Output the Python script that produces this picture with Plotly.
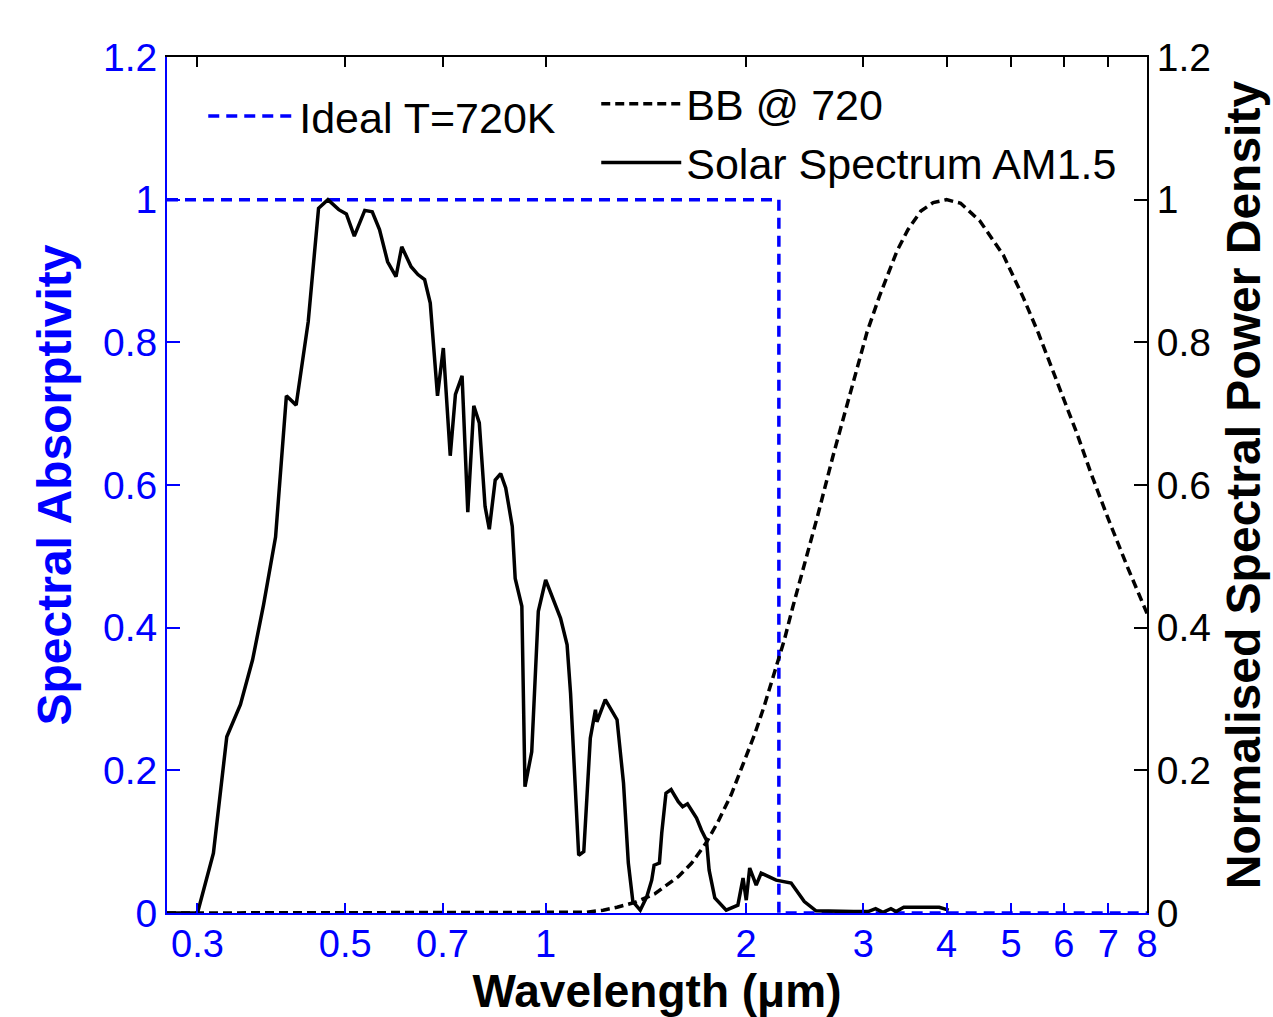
import math
import plotly.graph_objects as go

# ---- data ----
solar_wl = [0.27, 0.300, 0.317, 0.332, 0.348, 0.363, 0.377, 0.393, 0.408, 0.422,
            0.440, 0.456, 0.471, 0.489, 0.502, 0.516, 0.535, 0.549, 0.563, 0.579,
            0.596, 0.608, 0.628, 0.643, 0.658, 0.671, 0.688, 0.702, 0.719, 0.732,
            0.749, 0.764, 0.780, 0.795, 0.811, 0.823, 0.840, 0.856, 0.871, 0.891,
            0.900, 0.921, 0.931, 0.953, 0.975, 1.000, 1.053, 1.077, 1.090, 1.121,
            1.141, 1.167, 1.188, 1.194, 1.229, 1.280, 1.309, 1.331, 1.352, 1.387,
            1.419, 1.443, 1.455, 1.482, 1.494, 1.516, 1.543, 1.582, 1.606, 1.633,
            1.685, 1.714, 1.744, 1.760, 1.795, 1.867, 1.944, 1.979, 2.001, 2.025,
            2.071, 2.107, 2.219, 2.337, 2.446, 2.547, 2.90, 3.05, 3.13, 3.21,
            3.30, 3.36, 3.45, 3.90, 4.03]
solar_val = [0.0, 0.0, 0.084, 0.247, 0.292, 0.355, 0.432, 0.527, 0.725, 0.712,
             0.829, 0.988, 1.000, 0.986, 0.980, 0.949, 0.985, 0.983, 0.958, 0.913,
             0.892, 0.934, 0.906, 0.895, 0.888, 0.855, 0.725, 0.792, 0.641, 0.727,
             0.753, 0.562, 0.711, 0.687, 0.570, 0.538, 0.607, 0.616, 0.596, 0.542,
             0.469, 0.430, 0.177, 0.226, 0.423, 0.467, 0.413, 0.376, 0.308, 0.081,
             0.086, 0.245, 0.285, 0.268, 0.299, 0.271, 0.182, 0.070, 0.016, 0.004,
             0.023, 0.046, 0.067, 0.070, 0.112, 0.168, 0.173, 0.156, 0.149, 0.153,
             0.133, 0.116, 0.102, 0.060, 0.021, 0.004, 0.011, 0.049, 0.018, 0.063,
             0.039, 0.056, 0.046, 0.042, 0.016, 0.003, 0.002, 0.002, 0.006, 0.001,
             0.006, 0.002, 0.008, 0.008, 0.004]

bb_wl = [0.27, 0.5, 1.0, 1.15, 1.22, 1.28, 1.363, 1.459, 1.582, 1.657,
         1.744, 1.815, 1.900, 1.990, 2.059, 2.131, 2.218, 2.283, 2.349, 2.473,
         2.56, 2.70, 2.82, 2.94, 3.04, 3.17, 3.37, 3.50, 3.66, 3.82,
         4.0, 4.2, 4.49, 4.87, 5.22, 5.50, 5.72, 6.0, 6.28, 6.6,
         7.0, 7.5, 8.0]
bb_val = [0.0, 0.0, 0.0, 0.001, 0.004, 0.008, 0.015, 0.027, 0.051, 0.070,
          0.099, 0.128, 0.166, 0.213, 0.250, 0.291, 0.345, 0.383, 0.428, 0.504,
          0.556, 0.640, 0.705, 0.768, 0.815, 0.864, 0.928, 0.958, 0.984, 0.996,
          1.0, 0.995, 0.970, 0.922, 0.862, 0.812, 0.770, 0.722, 0.672, 0.615,
          0.552, 0.482, 0.420]

ideal_wl = [0.27, 2.24, 2.24, 8.0]
ideal_abs = [1.0, 1.0, 0.0, 0.0]

x_ticks = [0.3, 0.5, 0.7, 1, 2, 3, 4, 5, 6, 7, 8]
x_ticktext = ["0.3", "0.5", "0.7", "1", "2", "3", "4", "5", "6", "7", "8"]
y_ticks = [0, 0.2, 0.4, 0.6, 0.8, 1.0, 1.2]
y_ticktext = ["0", "0.2", "0.4", "0.6", "0.8", "1", "1.2"]
x_limits = [0.27, 8.0]
y_limits = [0, 1.2]

FONT = "Liberation Sans, Arial, Helvetica, sans-serif"
BLUE = "#0000FF"
xr = [math.log10(x_limits[0]), math.log10(x_limits[1])]

fig = go.Figure()
fig.add_trace(go.Scatter(x=ideal_wl, y=ideal_abs, mode="lines", name="Ideal T=720K",
                         line=dict(color=BLUE, width=3.5, dash="11px,7px"),
                         xaxis="x", yaxis="y", legend="legend"))
fig.add_trace(go.Scatter(x=bb_wl, y=bb_val, mode="lines", name="BB @ 720",
                         line=dict(color="black", width=3.5, dash="9px,5px"),
                         xaxis="x2", yaxis="y2", legend="legend2"))
fig.add_trace(go.Scatter(x=solar_wl, y=solar_val, mode="lines", name="Solar Spectrum AM1.5",
                         line=dict(color="black", width=3.5),
                         xaxis="x2", yaxis="y2", legend="legend2"))

fig.update_layout(
    width=1273, height=1017,
    margin=dict(l=167, r=121, t=57, b=104),
    paper_bgcolor="white", plot_bgcolor="white",
    font=dict(family=FONT, color="black"),
    xaxis=dict(type="log", range=xr, tickvals=x_ticks, ticktext=x_ticktext,
               showline=True, linecolor=BLUE, linewidth=2, mirror=False,
               ticks="inside", ticklen=10, tickwidth=2, tickcolor=BLUE,
               ticklabelstandoff=-4,
               tickfont=dict(size=38, color=BLUE, family=FONT),
               showgrid=False, zeroline=False,
               title=dict(text="Wavelength (μm)", standoff=6,
                          font=dict(size=46, color="black", family=FONT, weight="bold"))),
    xaxis2=dict(type="log", range=xr, tickvals=x_ticks, overlaying="x", side="top",
                anchor="y", showticklabels=False,
                showline=True, linecolor="black", linewidth=2,
                ticks="inside", ticklen=10, tickwidth=2, tickcolor="black",
                showgrid=False, zeroline=False),
    yaxis=dict(range=y_limits, tickvals=y_ticks, ticktext=y_ticktext,
               showline=True, linecolor=BLUE, linewidth=2,
               ticks="inside", ticklen=13, tickwidth=2, tickcolor=BLUE,
               tickfont=dict(size=39, color=BLUE, family=FONT),
               showgrid=False, zeroline=False,
               title=dict(text="Spectral Absorptivity", standoff=16,
                          font=dict(size=48, color=BLUE, family=FONT, weight="bold"))),
    yaxis2=dict(range=y_limits, tickvals=y_ticks, ticktext=y_ticktext,
                overlaying="y", side="right", anchor="x",
                showline=True, linecolor="black", linewidth=2,
                ticks="inside", ticklen=13, tickwidth=2, tickcolor="black",
                tickfont=dict(size=39, color="black", family=FONT),
                showgrid=False, zeroline=False,
                title=dict(text="Normalised Spectral Power Density", standoff=16,
                           font=dict(size=48, color="black", family=FONT, weight="bold"))),
    legend=dict(x=0.037, y=0.931, xanchor="left", yanchor="middle",
                bgcolor="rgba(0,0,0,0)", borderwidth=0, itemwidth=86,
                font=dict(size=43, family=FONT, color="black")),
    legend2=dict(x=0.438, y=0.911, xanchor="left", yanchor="middle",
                 bgcolor="rgba(0,0,0,0)", borderwidth=0, itemwidth=80,
                 font=dict(size=43, family=FONT, color="black")),
    showlegend=True,
)

fig.write_html("out.html")
